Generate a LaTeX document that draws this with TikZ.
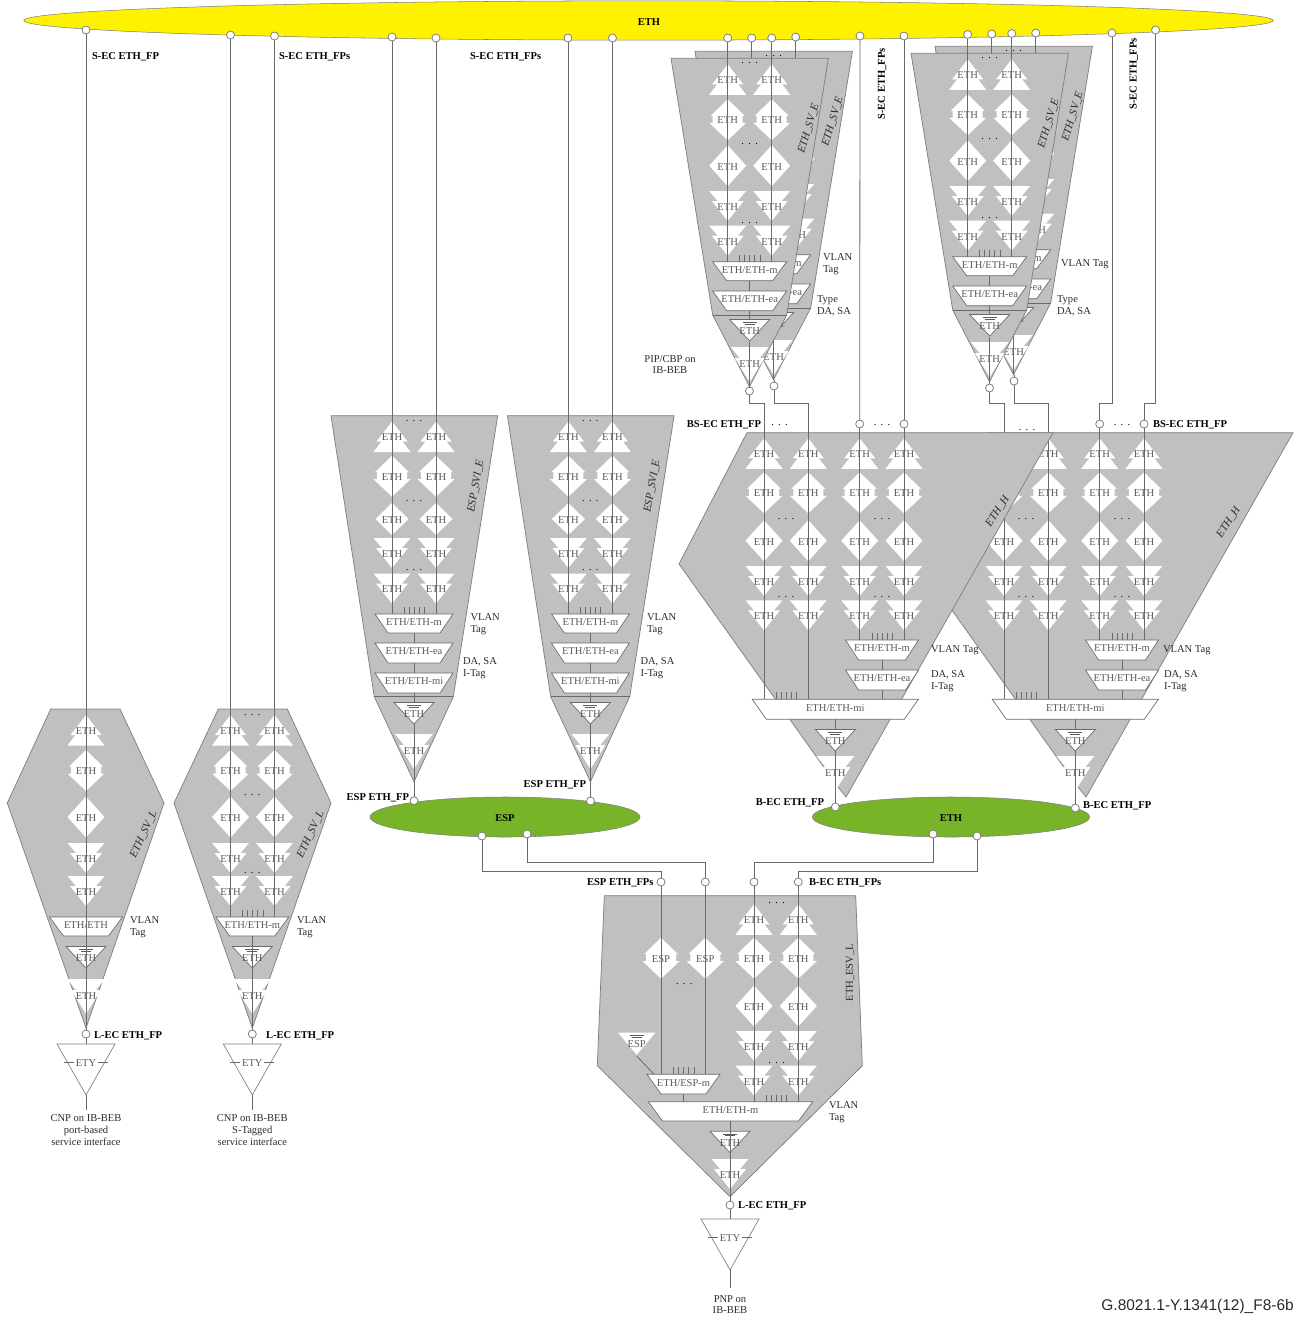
\documentclass[tikz,border=0pt]{standalone}
\usepackage{fontspec}
\usetikzlibrary{shapes.geometric}
\setmainfont{Liberation Serif}
\newfontfamily\sansf{Liberation Sans}
\definecolor{blockgray}{HTML}{C0C0C0}
\definecolor{edgegray}{HTML}{7F7F7F}
\definecolor{linegray}{HTML}{6A6A6A}
\definecolor{symtext}{HTML}{5A5A5A}
\definecolor{labtext}{HTML}{2A2A2A}
\definecolor{ityellow}{HTML}{FFF200}
\definecolor{itgreen}{HTML}{78B428}
\newcount\nn
\tikzset{
  lab/.style={inner sep=0pt,outer sep=0pt,text=labtext,font=\fontsize{7.9}{8.7}\selectfont,align=left,yshift=-0.75pt},
  symt/.style={text=symtext,align=center},
  ctr/.style={align=center},
  bld/.style={font=\fontsize{7.9}{8.7}\selectfont\bfseries,text=black,text depth=0pt},
  ita/.style={font=\fontsize{8.3}{9}\selectfont\itshape,text depth=0pt},
  west/.style={anchor=west},
  east/.style={anchor=east},
  port/.style={circle,draw=edgegray,fill=white,line width=0.6pt,minimum size=6pt,inner sep=0pt,outer sep=0pt},
  conn/.style={draw=linegray,line width=0.6pt},
  blk/.style={draw=edgegray,fill=blockgray,line width=0.55pt},
  whitesym/.style={fill=white,draw=none},
  trp/.style={draw=linegray,fill=white,line width=0.5pt},
  ell/.style={draw=edgegray,line width=0.4pt}
}
\newcommand\Lb[3][]{\global\advance\nn by 1\relax\node[lab,#1] (n\the\nn) at (#2) {#3};}
\newcommand\TU[3][ETH]{\begin{scope}[shift={(#2,#3)}]
  \path[whitesym] (0,-15)--(15.5,5)--(10.5,5)--(18.5,15.5)--(-18.5,15.5)--(-10.5,5)--(-15.5,5)--cycle;
  \Lb[symt]{0,0}{#1}\end{scope}}
\newcommand\DN[3][ETH]{\begin{scope}[shift={(#2,#3)}]
  \path[whitesym] (0,-20)--(17,-3.5)--(15,-3.5)--(15,3.5)--(18.5,3.5)--(0,21)--(-18.5,3.5)--(-15,3.5)--(-15,-3.5)--(-17,-3.5)--cycle;
  \Lb[symt]{0,0}{#1}\end{scope}}
\newcommand\DL[3][ETH]{\begin{scope}[shift={(#2,#3)}]
  \path[whitesym] (0,-20.5)--(18.5,0)--(0,20.5)--(-18.5,0)--cycle;
  \Lb[symt]{0,0}{#1}\end{scope}}
\newcommand\DS[3][ETH]{\begin{scope}[shift={(#2,#3)}]
  \path[whitesym] (0,-16)--(16.5,0)--(0,16)--(-16.5,0)--cycle;
  \Lb[symt]{0,0}{#1}\end{scope}}
\newcommand\TD[3][ETH]{\begin{scope}[shift={(#2,#3)}]
  \path[whitesym] (0,15)--(16,-5)--(10,-5)--(18.5,-15)--(-18.5,-15)--(-10,-5)--(-16,-5)--cycle;
  \Lb[symt]{0,0}{#1}\end{scope}}
\newcommand\TP[2]{\begin{scope}[shift={(#1,#2)}]
  \path[whitesym] (0,19)--(15,-5)--(10,-5)--(19,-16)--(-19,-16)--(-10,-5)--(-15,-5)--cycle;
  \Lb[symt]{0,0}{ETH}\end{scope}}
\newcommand\GT[3][ETH]{\begin{scope}[shift={(#2,#3)}]
  \filldraw[trp] (-20,-10.5)--(20,-10.5)--(0,11)--cycle;
  \draw[draw=symtext,line width=0.3pt] (-7,-8)--(7,-8) (-5,-6.2)--(5,-6.2);
  \Lb[symt]{0,0}{#1}\end{scope}}
\newcommand\Stack[7]{\TU{#1}{#2}\DN{#1}{#3}#7{#1}{#4}\TD{#1}{#5}\TD{#1}{#6}}
\newcommand\Trap[6]{\filldraw[trp] ({#1-#4},#2)--({#1+#4},#2)--({#1+#5},#3)--({#1-#5},#3)--cycle;
  \Lb[symt]{#1,{#2+7.5}}{#6}}
\newcommand\Ticks[2]{\foreach \i in {0,...,4}{\draw[conn] ({#1+5.1*\i},{#2-7})--({#1+5.1*\i},#2);}}
\newcommand\Dots[2]{\Lb[text=black]{#1,#2}{.\hspace{3.2pt}.\hspace{3.2pt}.}}
\newcommand\ETYb[2]{\filldraw[draw=edgegray,fill=white,line width=0.5pt] ({#1-29},#2)--({#1+29},#2)--(#1,{#2+51})--cycle;
  \draw[conn,line width=0.4pt] ({#1-22},{#2+18})--({#1-12},{#2+18}) ({#1+12},{#2+18})--({#1+22},{#2+18});
  \Lb[symt]{#1,{#2+18}}{ETY}}
% ETH_SV_E block, absolute geometry of the front left one, shifted
\newcommand\SVE[5]{\begin{scope}[shift={(#1,#2)}]
  \draw[blk] (671,58.3)--(828.4,58.3)--(786.7,315)--(749.5,386.7)--(712.7,315)--cycle;
  \Dots{749.7}{61.7}
  \Stack{727.7}{79.3}{119.3}{165.7}{206}{240.7}{\DL}
  \Stack{771.7}{79.3}{119.3}{165.7}{206}{240.7}{\DL}
  \Dots{749.7}{142.7}\Dots{749.7}{221.7}
  \draw[conn] (712.7,315)--(786.7,315);
  \Trap{749.7}{261.7}{280.7}{37}{23}{ETH/ETH-m}
  \Trap{749.7}{291}{310.7}{37}{23}{ETH/ETH-ea}
  \Ticks{739.5}{261.7}
  \draw[conn] (749.7,280.7)--(749.7,291) (749.7,310.7)--(749.7,320);
  \GT{749.7}{330}\TP{749.7}{363}
  \draw[conn] (749.7,341.5)--(749.7,386.7);
  \draw[conn] (#3.south)--(#3.south |- 0,261.7);
  \draw[conn] (#4.south)--(#4.south |- 0,261.7);
  \draw[conn] (#5.north)--(#5.north |- 0,386.7);
  \Lb[ita,rotate=73]{808,127}{ETH\_SV\_E}
  \end{scope}}
% ESP_SVI_E block
\newcommand\ESPB[4]{\begin{scope}[shift={(#1,0)}]
  \draw[blk] (331,415.7)--(497.7,415.7)--(453.3,696.7)--(414,781.7)--(374.3,696.7)--cycle;
  \Dots{414}{420}
  \Stack{392}{436.5}{475.7}{519}{553}{588.5}{\DS}
  \Stack{436}{436.5}{475.7}{519}{553}{588.5}{\DS}
  \Dots{414}{500}\Dots{414}{569}
  \draw[conn] (374.3,696.7)--(453.3,696.7);
  \Trap{414}{614}{633}{39}{26}{ETH/ETH-m}
  \Trap{414}{643}{663}{39}{26}{ETH/ETH-ea}
  \Trap{414}{673}{693}{39}{26}{ETH/ETH-mi}
  \Ticks{404}{614}
  \draw[conn] (414,633)--(414,643) (414,663)--(414,673) (414,693)--(414,702);
  \GT{414}{713}\TP{414}{750}
  \draw[conn] (414,724)--(414,782);
  \draw[conn] (#2.south)--(#2.south |- 0,614);
  \draw[conn] (#3.south)--(#3.south |- 0,614);
  \draw[conn] (#4.north)--(#4.north |- 0,782);
  \Lb[ita,rotate=80]{475,485}{ESP\_SVI\_E}
  \end{scope}}
% ETH_H block
\newcommand\ETHH[6]{\begin{scope}[shift={(#1,0)}]
  \draw[blk] (747,432.7)--(1053,432.7)--(846,797)--(838,787)--(679,564)--cycle;
  \Stack{764}{453.3}{492.3}{540.7}{581}{615.3}{\DL}
  \Stack{808.3}{453.3}{492.3}{540.7}{581}{615.3}{\DL}
  \Stack{859.7}{453.3}{492.3}{540.7}{581}{615.3}{\DL}
  \Stack{904}{453.3}{492.3}{540.7}{581}{615.3}{\DL}
  \Dots{786}{517.7}\Dots{786}{595.7}\Dots{882}{517.7}\Dots{882}{595.7}
  \Trap{882}{640}{660}{36.5}{23.5}{ETH/ETH-m}
  \Trap{882}{670}{690}{36.5}{23.5}{ETH/ETH-ea}
  \Trap{835.3}{699.3}{719.3}{83}{69}{ETH/ETH-mi}
  \Ticks{872}{640}\Ticks{776}{699.3}
  \draw[conn] (882,660)--(882,670) (882,690)--(882,699.3) (835.3,719.3)--(835.3,729.5);
  \GT{835.3}{740}\TP{835.3}{772}
  \draw[conn] (835.3,751)--(835.3,790);
  \draw[conn] (#2.south) |- (764,403) -- (764,699.3);
  \draw[conn] (#3.south) |- (808.3,403) -- (808.3,699.3);
  \draw[conn] (#4.south)--(#4.south |- 0,640);
  \draw[conn] (#5.south)--(#5.south |- 0,640);
  \draw[conn] (#6.north)--(#6.north |- 0,790);
  \end{scope}}
\begin{document}
\begin{tikzpicture}[x=0.75pt,y=-0.75pt]
\useasboundingbox (0,0) rectangle (1298,1317);
% ellipses
\node[ell,ellipse,fill=ityellow,minimum width=937pt,minimum height=29.5pt,inner sep=0pt] (ETHtop) at (648.5,20.5) {};
\Lb[bld]{649,21}{ETH}
\node[ell,ellipse,fill=itgreen,minimum width=202.5pt,minimum height=30pt,inner sep=0pt] (ESPring) at (505,817) {};
\Lb[bld]{505,817}{ESP}
\node[ell,ellipse,fill=itgreen,minimum width=208pt,minimum height=30pt,inner sep=0pt] (ETHring) at (951,817) {};
\Lb[bld]{951,817}{ETH}
% ports
\node[port] (T1) at (86,30) {};
\node[port] (T2) at (230.5,35) {};
\node[port] (T3) at (274.5,36) {};
\node[port] (T4) at (392,37) {};
\node[port] (T5) at (436,38) {};
\node[port] (T6) at (568,38) {};
\node[port] (T7) at (612.5,38) {};
\node[port] (T8) at (727.7,38) {};
\node[port] (T9) at (751.7,38) {};
\node[port] (T10) at (771.7,38) {};
\node[port] (T11) at (795.7,37) {};
\node[port] (T12) at (860,36) {};
\node[port] (T13) at (904,36) {};
\node[port] (T14) at (967.7,34.5) {};
\node[port] (T15) at (991.7,34) {};
\node[port] (T16) at (1011.7,33.5) {};
\node[port] (T17) at (1035.7,33) {};
\node[port] (T18) at (1112,33) {};
\node[port] (T19) at (1155.5,30) {};
\node[port] (SA) at (749.5,391) {};
\node[port] (SB) at (774,386) {};
\node[port] (SC) at (989.5,388) {};
\node[port] (SD) at (1014,381) {};
\node[port] (M1) at (859.7,424) {};
\node[port] (M2) at (904,424) {};
\node[port] (M3) at (1099.7,424) {};
\node[port] (M4) at (1144,424) {};
\node[port] (E1) at (414,800.7) {};
\node[port] (E2) at (590.5,801) {};
\node[port] (E3) at (482,836) {};
\node[port] (E4) at (527,834) {};
\node[port] (G1) at (835.3,807) {};
\node[port] (G2) at (1075.3,808) {};
\node[port] (G3) at (933,834) {};
\node[port] (G4) at (977,836) {};
\node[port] (B1) at (661,882) {};
\node[port] (B2) at (705.3,882) {};
\node[port] (B3) at (754,882) {};
\node[port] (B4) at (798.3,882) {};
\node[port] (L1) at (86,1034) {};
\node[port] (L2) at (252.3,1034) {};
\node[port] (L3) at (730,1205) {};
% ETH_SV_L port-based
\draw[blk] (50.7,709)--(120,709)--(164,803)--(86,1028)--(7.3,803)--cycle;
\Stack{86}{730}{770}{817}{858}{891}{\DL}
\Trap{86}{917}{936}{36.5}{22.5}{ETH/ETH}
\GT{86}{957}\TP{86}{995}
\draw[conn] (T1.south)--(L1.north);
\Lb[ita,rotate=65]{143,833}{ETH\_SV\_L}
\Lb[west]{130,926}{VLAN\\Tag}
\Lb[bld,west]{94,1034}{L-EC ETH\_FP}
\ETYb{86}{1044}
\coordinate (F1) at (86,1110);
\draw[conn] (L1.south)--(86,1044) (86,1095)--(F1);
\Lb[ctr]{86,1129}{CNP on IB-BEB\\port-based\\service interface}
% ETH_SV_L S-tagged
\draw[blk] (218.3,709)--(287.3,709)--(331,803)--(252.3,1028)--(174,803)--cycle;
\Stack{230.5}{730}{770}{817}{858}{891}{\DL}
\Stack{274.5}{730}{770}{817}{858}{891}{\DL}
\Dots{252.3}{714}\Dots{252.3}{794}\Dots{252.3}{872}
\Trap{252.3}{917}{936}{36.5}{22.5}{ETH/ETH-m}
\Ticks{242.5}{917}
\GT{252.3}{957}\TP{252.3}{995}
\draw[conn] (T2.south)--(T2.south |- 0,917);
\draw[conn] (T3.south)--(T3.south |- 0,917);
\draw[conn] (L2.north)--(252.3,936);
\Lb[ita,rotate=65]{310,833}{ETH\_SV\_L}
\Lb[west]{297,926}{VLAN\\Tag}
\Lb[bld,west]{266,1034}{L-EC ETH\_FP}
\ETYb{252.3}{1044}
\coordinate (F2) at (252.3,1110);
\draw[conn] (L2.south)--(252.3,1044) (252.3,1095)--(F2);
\Lb[ctr]{252.3,1129}{CNP on IB-BEB\\S-Tagged\\service interface}
% ESP_SVI_E
\ESPB{0}{T4}{T5}{E1}
\ESPB{176.4}{T6}{T7}{E2}
\Lb[west]{470.5,623}{VLAN\\Tag}
\Lb[west]{463,667}{DA, SA\\I-Tag}
\Lb[west]{647,623}{VLAN\\Tag}
\Lb[west]{640.5,667}{DA, SA\\I-Tag}
\Lb[bld,east]{409,796}{ESP ETH\_FP}
\Lb[bld,east]{586,783}{ESP ETH\_FP}
% ETH_SV_E
\SVE{24}{-7}{T9}{T11}{SB}
\SVE{0}{0}{T8}{T10}{SA}
\SVE{264}{-12}{T15}{T17}{SD}
\SVE{240}{-5}{T14}{T16}{SC}
\Lb[west]{823,263}{VLAN\\Tag}
\Lb[west]{817,305}{Type\\DA, SA}
\Lb[west]{1061,263}{VLAN Tag}
\Lb[west]{1057,305}{Type\\DA, SA}
\Lb[ctr]{670,363.5}{PIP/CBP on\\IB-BEB}
% ETH_H
\Dots{1027}{429}
\ETHH{240}{SC}{SD}{M3}{M4}{G2}
\ETHH{0}{SA}{SB}{M1}{M2}{G1}
\Lb[ita,rotate=57]{997,510}{ETH\_H}
\Lb[ita,rotate=57]{1228,521}{ETH\_H}
\coordinate (R3a) at (1099.7,403); \coordinate (R3b) at (1112,403);
\coordinate (R4a) at (1144,403); \coordinate (R4b) at (1155.5,403);
\draw[conn] (T12.south)--(M1.north);
\draw[conn] (T13.south)--(M2.north);
\draw[conn] (T18.south)--(R3b)--(R3a)--(M3.north);
\draw[conn] (T19.south)--(R4b)--(R4a)--(M4.north);
\Dots{779.5}{424}\Dots{882}{424}\Dots{1122}{424}
\Lb[bld,east]{761,423}{BS-EC ETH\_FP}
\Lb[bld,west]{1153,423}{BS-EC ETH\_FP}
\Lb[west]{931,649}{VLAN Tag}
\Lb[west]{931,680}{DA, SA\\I-Tag}
\Lb[west]{1163,649}{VLAN Tag}
\Lb[west]{1164,680}{DA, SA\\I-Tag}
\Lb[bld,east]{824,801}{B-EC ETH\_FP}
\Lb[bld,west]{1083,804}{B-EC ETH\_FP}
% routes to bottom block
\coordinate (Ra) at (661,871); \coordinate (Rb) at (705.3,862);
\coordinate (Rc) at (754,862); \coordinate (Rd) at (798.3,871);
\draw[conn] (E3.south) |- (Ra) -- (B1.north);
\draw[conn] (E4.south) |- (Rb) -- (B2.north);
\draw[conn] (G3.south) |- (Rc) -- (B3.north);
\draw[conn] (G4.south) |- (Rd) -- (B4.north);
% ETH_ESV_L
\draw[blk] (604.3,895.7)--(855.7,895.7)--(862.3,1065.7)--(730,1196.7)--(597.3,1065.7)--cycle;
\DN[ESP]{661}{957.7}\DN[ESP]{705.3}{957.7}
\Stack{754}{919.3}{957.7}{1006}{1046}{1080.7}{\DL}
\Stack{798.3}{919.3}{957.7}{1006}{1046}{1080.7}{\DL}
\Dots{776.7}{901.7}\Dots{684.3}{982.7}\Dots{776.7}{1061.7}
\begin{scope}[shift={(636.7,1042.7)}]
\path[whitesym] (-18.7,-10)--(18.7,-10)--(0,12)--cycle;
\draw[draw=symtext,line width=0.3pt] (-7,-7.5)--(7,-7.5) (-5,-5.7)--(5,-5.7);
\Lb[symt]{0,0}{ESP}
\end{scope}
\coordinate (Fe) at (636.7,1056);
\draw[conn] (Fe)--(654,1074.3);
\Trap{683.5}{1074.3}{1094}{36.5}{22.5}{ETH/ESP-m}
\Trap{730.5}{1101.7}{1121}{82.2}{68}{ETH/ETH-m}
\Ticks{673.5}{1074.3}\Ticks{766}{1101.7}
\draw[conn] (683.5,1094)--(683.5,1101.7);
\draw[conn] (B1.south)--(661,1074.3);
\draw[conn] (B2.south)--(705.3,1074.3);
\draw[conn] (B3.south)--(754,1101.7);
\draw[conn] (B4.south)--(798.3,1101.7);
\GT{730}{1141.7}\TD{730}{1174}
\draw[conn] (730,1121)--(L3.north);
\Lb[rotate=90]{850,971.7}{ETH\_ESV\_L}
\Lb[bld,east]{653.5,881}{ESP ETH\_FPs}
\Lb[bld,west]{809,881}{B-EC ETH\_FPs}
\Lb[west]{829,1111}{VLAN\\Tag}
\Lb[bld,west]{738,1204}{L-EC ETH\_FP}
\ETYb{730}{1219}
\coordinate (F3) at (730,1288);
\draw[conn] (L3.south)--(730,1219) (730,1270)--(F3);
\Lb[ctr]{730,1303.5}{PNP on\\IB-BEB}
% top labels
\Lb[bld,west]{92,55}{S-EC ETH\_FP}
\Lb[bld,west]{279,55}{S-EC ETH\_FPs}
\Lb[bld,west]{470,55}{S-EC ETH\_FPs}
\Lb[bld,rotate=90]{881.5,83}{S-EC ETH\_FPs}
\Lb[bld,rotate=90]{1133,73}{S-EC ETH\_FPs}
\node[inner sep=0pt,anchor=east,font=\sansf\fontsize{11.6}{13}\selectfont,text=labtext] (tag) at (1294,1306) {G.8021.1-Y.1341(12)\_F8-6b};
\end{tikzpicture}
\end{document}
